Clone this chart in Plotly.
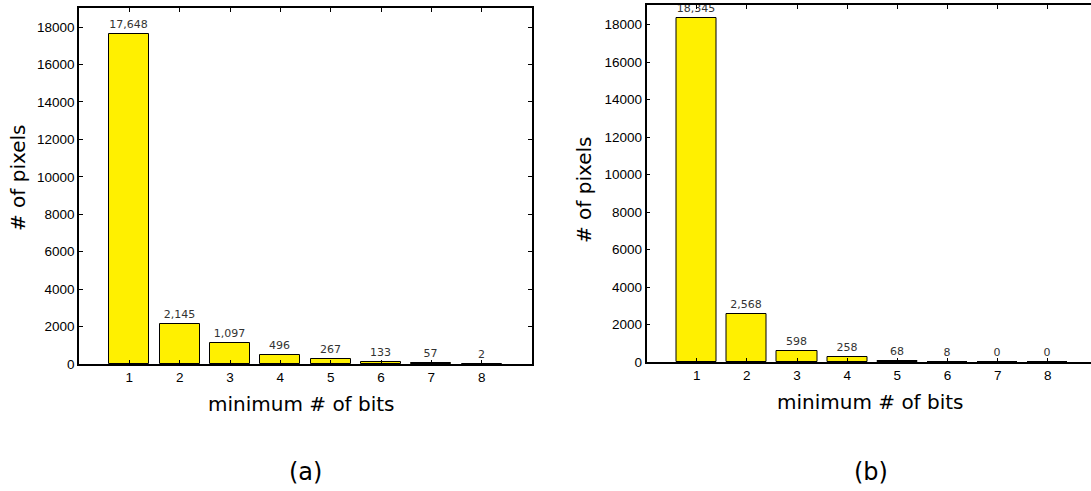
import plotly.graph_objects as go

bits = [1, 2, 3, 4, 5, 6, 7, 8]
pixels_a = [17648, 2145, 1097, 496, 267, 133, 57, 2]
pixels_b = [18345, 2568, 598, 258, 68, 8, 0, 0]
y_ticks = [0, 2000, 4000, 6000, 8000, 10000, 12000, 14000, 16000, 18000]

W, H = 1091, 491
TITLE_FONT = "DejaVu Sans"
TICK_FONT = "Liberation Sans"
BAR_COLOR = "#FFF000"

label_font = dict(family=TITLE_FONT, size=11, color="#333333")

fig = go.Figure()
for vals, xa, ya in [(pixels_a, "x", "y"), (pixels_b, "x2", "y2")]:
    fig.add_trace(go.Bar(
        x=bits, y=vals, xaxis=xa, yaxis=ya, width=0.8,
        marker=dict(color=BAR_COLOR, line=dict(color="black", width=1)),
        text=[f"{v:,}" for v in vals], textposition="outside",
        textfont=label_font, outsidetextfont=label_font,
        constraintext="none", cliponaxis=False, showlegend=False,
        hoverinfo="skip",
    ))

def px_x(p):
    return p / W

def px_y(p):
    return 1 - p / H

axis_common = dict(showline=True, linecolor="black", linewidth=1.5, ticks="inside",
                   ticklen=4, tickcolor="black", showgrid=False, zeroline=False,
                   automargin=False, tickformat="d",
                   tickfont=dict(family=TICK_FONT, size=13.5, color="black"))

fig.update_layout(
    width=W, height=H, margin=dict(l=0, r=0, t=0, b=0),
    plot_bgcolor="white", paper_bgcolor="white", bargap=0,
    xaxis=dict(domain=[px_x(79), px_x(532)], range=[0, 9], tickvals=bits,
               mirror="ticks", anchor="y", **axis_common),
    yaxis=dict(domain=[px_y(364), px_y(8)], range=[0, 19020], tickvals=y_ticks,
               mirror="ticks", anchor="x", **axis_common),
    xaxis2=dict(domain=[px_x(646.5), 1.0], range=[0, 8.86], tickvals=bits,
                mirror="ticks", anchor="y2", **axis_common),
    yaxis2=dict(domain=[px_y(362), px_y(5)], range=[0, 19040], tickvals=y_ticks,
                mirror=False, anchor="x2", **axis_common),
)

ann_font = dict(family=TITLE_FONT, size=20, color="black")
big_font = dict(family=TITLE_FONT, size=24, color="black")
anns = [
    dict(text="# of pixels", x=px_x(18), y=px_y(178), textangle=-90),
    dict(text="# of pixels", x=px_x(584), y=px_y(190), textangle=-90),
    dict(text="minimum # of bits", x=px_x(301), y=px_y(404)),
    dict(text="minimum # of bits", x=px_x(870), y=px_y(402)),
    dict(text="(a)", x=px_x(305), y=px_y(472), font=big_font),
    dict(text="(b)", x=px_x(871), y=px_y(472), font=big_font),
]
for a in anns:
    a.setdefault("font", ann_font)
    fig.add_annotation(xref="paper", yref="paper", showarrow=False,
                       xanchor="center", yanchor="middle", **a)

fig.write_html("out.html", config={"displayModeBar": False},
               post_script="document.body.style.margin='0';document.body.style.overflow='hidden';")
